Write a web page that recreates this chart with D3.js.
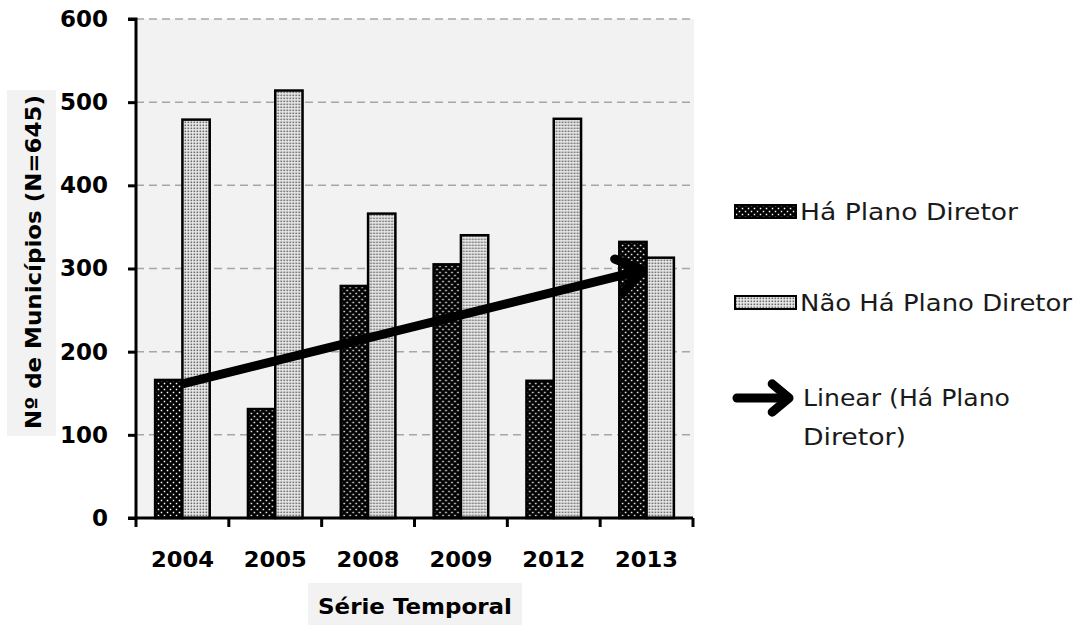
<!DOCTYPE html>
<html>
<head>
<meta charset="utf-8">
<script src="https://cdn.jsdelivr.net/npm/d3@7"></script>
<style>
  html, body { margin: 0; padding: 0; background: #ffffff; }
  svg { display: block; }
</style>
</head>
<body>
<svg id="chart" width="1079" height="625"></svg>
<script>
// Número de municípios com e sem Plano Diretor por ano
const years = ["2004", "2005", "2008", "2009", "2012", "2013"];
const comPlano = [166, 131, 279, 305, 165, 332];
const semPlano = [479, 514, 366, 340, 480, 313];
const yTicks = [0, 100, 200, 300, 400, 500, 600];
const seriesNames = ["Há Plano Diretor", "Não Há Plano Diretor"];
const trendName = ["Linear (Há Plano", "Diretor)"];

const W = 1079, H = 625;
const margin = { top: 19, right: 386, bottom: 107, left: 136 };
const innerW = W - margin.left - margin.right;
const innerH = H - margin.top - margin.bottom;

const svg = d3.select("#chart");
const defs = svg.append("defs");

// dark dotted pattern: black with staggered white dots
const pDark = defs.append("pattern").attr("id", "pDark")
  .attr("patternUnits", "userSpaceOnUse").attr("width", 6).attr("height", 6);
pDark.append("rect").attr("width", 6).attr("height", 6).attr("fill", "#000");
[[1.5, 1.5], [4.5, 4.5]].forEach(([cx, cy]) =>
  pDark.append("rect").attr("x", cx - 0.75).attr("y", cy - 0.75)
    .attr("width", 1.5).attr("height", 1.5).attr("fill", "#fff"));

// light dotted pattern: fine grey dots on white
const pLight = defs.append("pattern").attr("id", "pLight")
  .attr("patternUnits", "userSpaceOnUse").attr("width", 3).attr("height", 3);
pLight.append("rect").attr("width", 3).attr("height", 3).attr("fill", "#f0f0f0");
pLight.append("rect").attr("x", 0.5).attr("y", 0.5).attr("width", 1.7).attr("height", 1.7).attr("fill", "#6a6a6a");

const g = svg.append("g").attr("transform", `translate(${margin.left},${margin.top})`);

const x = d3.scaleBand().domain(years).range([0, innerW]).paddingInner(0).paddingOuter(0);
const inner = d3.scaleBand().domain([0, 1]).range([0, x.bandwidth()]).paddingInner(0).paddingOuter(0.7);
const y = d3.scaleLinear().domain([0, 600]).range([innerH, 0]);

// plot area background
g.append("rect").attr("x", 0).attr("y", 0).attr("width", innerW + 1).attr("height", innerH)
  .attr("fill", "#f2f2f2");

// dashed gridlines
g.append("g").selectAll("line").data(yTicks.filter(t => t > 0)).join("line")
  .attr("x1", 0).attr("x2", innerW)
  .attr("y1", d => y(d)).attr("y2", d => y(d))
  .attr("stroke", "#a6a6a6").attr("stroke-width", 1.5).attr("stroke-dasharray", "8,5");

// bars
const rows = years.map((yr, i) => ({ yr, vals: [comPlano[i], semPlano[i]] }));
const fills = ["url(#pDark)", "url(#pLight)"];
const groups = g.append("g").selectAll("g").data(rows).join("g")
  .attr("transform", d => `translate(${x(d.yr)},0)`);
groups.selectAll("rect").data(d => d.vals.map((v, k) => ({ v, k }))).join("rect")
  .attr("x", d => inner(d.k))
  .attr("width", inner.bandwidth())
  .attr("y", d => y(d.v))
  .attr("height", d => innerH - y(d.v))
  .attr("fill", d => fills[d.k])
  .attr("stroke", "#000").attr("stroke-width", 2.5);

// linear trendline of the "Há Plano Diretor" series (least squares on index 1..n)
const n = comPlano.length;
const xs = d3.range(1, n + 1);
const mx = d3.mean(xs), my = d3.mean(comPlano);
const slope = d3.sum(xs, (xi, i) => (xi - mx) * (comPlano[i] - my)) / d3.sum(xs, xi => (xi - mx) ** 2);
const icpt = my - slope * mx;
const cx = yr => x(yr) + x.bandwidth() / 2;
const x0 = cx(years[0]), y0 = y(icpt + slope * 1);
const x1 = cx(years[n - 1]) - 4, y1 = y(icpt + slope * n);
g.append("line").attr("x1", x0).attr("y1", y0).attr("x2", x1).attr("y2", y1)
  .attr("stroke", "#000").attr("stroke-width", 9);
// open arrowhead
function arrowHead(sel, tx, ty, ang, len, spread, w) {
  const a1 = ang + Math.PI - spread, a2 = ang + Math.PI + spread;
  sel.append("path")
    .attr("d", `M${tx + len * Math.cos(a1)},${ty + len * Math.sin(a1)}L${tx},${ty}L${tx + len * Math.cos(a2)},${ty + len * Math.sin(a2)}`)
    .attr("fill", "none").attr("stroke", "#000").attr("stroke-width", w)
    .attr("stroke-linecap", "round").attr("stroke-linejoin", "round");
}
const ang = Math.atan2(y1 - y0, x1 - x0);
arrowHead(g, x1, y1, ang, 30, 0.62, 9);

// y axis
const yAxis = g.append("g").call(d3.axisLeft(y).tickValues(yTicks).tickSize(8).tickPadding(22).tickFormat(d3.format("d")));
yAxis.select(".domain").attr("stroke", "#000").attr("stroke-width", 3).attr("d", `M-8,${innerH}H0V0H-8`);
yAxis.selectAll(".tick line").attr("stroke", "#000").attr("stroke-width", 3);
yAxis.selectAll(".tick text")
  .attr("font-family", "'DejaVu Sans', sans-serif").attr("font-weight", "bold")
  .attr("font-size", 23).attr("fill", "#000")
  .attr("x", -28);

// x axis: ticks on band boundaries, labels at band centres
const xAxisG = g.append("g").attr("transform", `translate(0,${innerH})`);
xAxisG.append("line").attr("x1", 0).attr("x2", innerW).attr("stroke", "#000").attr("stroke-width", 3);
const bounds = d3.range(0, years.length + 1).map(i => i * x.step());
xAxisG.selectAll("line.tk").data(bounds).join("line").attr("class", "tk")
  .attr("x1", d => d).attr("x2", d => d).attr("y1", 0).attr("y2", 9)
  .attr("stroke", "#000").attr("stroke-width", 3);
xAxisG.selectAll("text").data(years).join("text")
  .attr("x", d => cx(d)).attr("y", 49)
  .attr("text-anchor", "middle")
  .attr("font-family", "'DejaVu Sans', sans-serif").attr("font-weight", "bold")
  .attr("font-size", 22).attr("fill", "#000")
  .attr("textLength", 63).attr("lengthAdjust", "spacingAndGlyphs")
  .text(d => d);

// axis titles with light grey boxes
svg.append("rect").attr("x", 7).attr("y", 90).attr("width", 49).attr("height", 346).attr("fill", "#f2f2f2");
svg.append("text")
  .attr("transform", "translate(41,262) rotate(-90)")
  .attr("text-anchor", "middle")
  .attr("font-family", "'DejaVu Sans', sans-serif").attr("font-weight", "bold")
  .attr("font-size", 22).attr("fill", "#000")
  .attr("textLength", 334).attr("lengthAdjust", "spacingAndGlyphs")
  .text("Nº de Municípios (N=645)");

svg.append("rect").attr("x", 308).attr("y", 583).attr("width", 214).attr("height", 42).attr("fill", "#f2f2f2");
svg.append("text")
  .attr("x", 415).attr("y", 614)
  .attr("text-anchor", "middle")
  .attr("font-family", "'DejaVu Sans', sans-serif").attr("font-weight", "bold")
  .attr("font-size", 22).attr("fill", "#000")
  .attr("textLength", 194).attr("lengthAdjust", "spacingAndGlyphs")
  .text("Série Temporal");

// legend
const lg = svg.append("g");
const legFont = "'DejaVu Sans', sans-serif";
const legRows = [
  { label: seriesNames[0], fill: fills[0], cy: 212, len: 218 },
  { label: seriesNames[1], fill: fills[1], cy: 303, len: 272 }
];
legRows.forEach(r => {
  lg.append("rect").attr("x", 735).attr("y", r.cy - 7).attr("width", 61).attr("height", 13)
    .attr("fill", r.fill).attr("stroke", "#000").attr("stroke-width", 2);
  lg.append("text").attr("x", 800).attr("y", r.cy + 8)
    .attr("font-family", legFont).attr("font-size", 23).attr("fill", "#1a1a1a")
    .attr("textLength", r.len).attr("lengthAdjust", "spacingAndGlyphs")
    .text(r.label);
});
lg.append("line").attr("x1", 737).attr("y1", 398).attr("x2", 787).attr("y2", 398)
  .attr("stroke", "#000").attr("stroke-width", 9).attr("stroke-linecap", "round");
arrowHead(lg, 789, 398, 0, 22, 0.7, 9);
lg.append("text").attr("x", 803).attr("y", 406)
  .attr("font-family", legFont).attr("font-size", 23).attr("fill", "#1a1a1a")
  .attr("textLength", 207).attr("lengthAdjust", "spacingAndGlyphs")
  .text(trendName[0]);
lg.append("text").attr("x", 803).attr("y", 445)
  .attr("font-family", legFont).attr("font-size", 23).attr("fill", "#1a1a1a")
  .attr("textLength", 103).attr("lengthAdjust", "spacingAndGlyphs")
  .text(trendName[1]);
</script>
</body>
</html>
